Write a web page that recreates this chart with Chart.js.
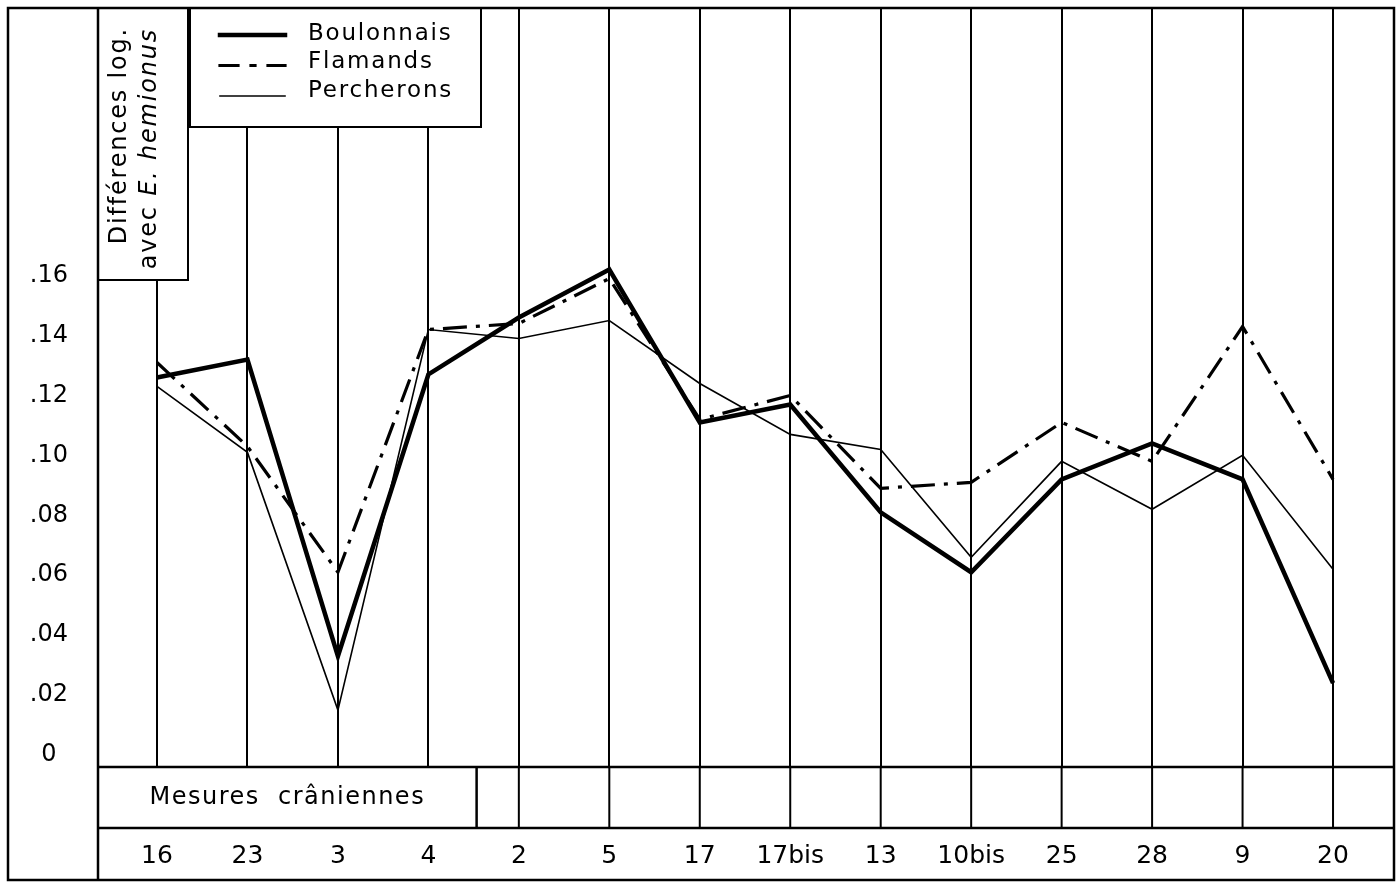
<!DOCTYPE html>
<html>
<head>
<meta charset="utf-8">
<script src="https://cdn.jsdelivr.net/npm/chart.js@4.4.0/dist/chart.umd.min.js"></script>
<style>
html,body{margin:0;padding:0;background:#fff}
</style>
</head>
<body>
<canvas id="graphique" width="1398" height="885"></canvas>
<script>
// mesures crâniennes (ordre du graphique)
const categories=["16","23","3","4","2","5","17","17bis","13","10bis","25","28","9","20"]

// différences log. avec E. hemionus
const boulonnais=[0.126,0.132,0.033,0.127,0.146,0.162,0.111,0.117,0.081,0.061,0.092,0.104,0.092,0.024]
const flamands=[0.131,0.103,0.061,0.142,0.144,0.159,0.112,0.120,0.089,0.091,0.111,0.098,0.143,0.092]
const percherons=[0.123,0.101,0.015,0.142,0.139,0.145,0.124,0.107,0.102,0.066,0.098,0.082,0.100,0.062]

const yTicks=[0,0.02,0.04,0.06,0.08,0.10,0.12,0.14,0.16]
const yLabels=["0",".02",".04",".06",".08",".10",".12",".14",".16"]

const police="'DejaVu Sans', sans-serif"

function points(valeurs){
return valeurs.map((v,i)=>({x:i,y:v}))
}

// pas de marge automatique autour des axes
function sansMarge(s){
s.paddingTop=0
s.paddingBottom=0
s.paddingLeft=0
s.paddingRight=0
}

const cadre={
id:"cadre",

beforeDatasetsDraw(chart){
const ctx=chart.ctx
const a=chart.chartArea
ctx.save()
ctx.fillStyle="#fff"
ctx.strokeStyle="#000"
ctx.lineWidth=2
// case du titre de l'axe
ctx.fillRect(a.left,a.top,90,272)
ctx.strokeRect(a.left,a.top,90,272)
// case de la légende
ctx.fillRect(a.left+92,a.top,291,119)
ctx.strokeRect(a.left+92,a.top,291,119)
ctx.restore()
},

afterDraw(chart){
const ctx=chart.ctx
const a=chart.chartArea
const x=chart.scales.x
const bas=880
const rang=a.bottom+61
ctx.save()
ctx.strokeStyle="#000"
ctx.lineWidth=2.5
ctx.lineCap="square"

ctx.beginPath()
// cadre extérieur
ctx.moveTo(8,a.top); ctx.lineTo(a.right,a.top)
ctx.moveTo(8,a.top); ctx.lineTo(8,bas)
ctx.moveTo(a.right,a.top); ctx.lineTo(a.right,bas)
ctx.moveTo(8,bas); ctx.lineTo(a.right,bas)
ctx.moveTo(a.left,a.top); ctx.lineTo(a.left,bas)
// tableau du bas
ctx.moveTo(a.left,a.bottom); ctx.lineTo(a.right,a.bottom)
ctx.moveTo(a.left,rang); ctx.lineTo(a.right,rang)
const sep=(x.getPixelForValue(3)+x.getPixelForValue(4))/2+3
ctx.moveTo(sep,a.bottom); ctx.lineTo(sep,rang)
ctx.stroke()

ctx.lineWidth=2
ctx.beginPath()
for(let i=4;i<categories.length;i++){
const px=x.getPixelForValue(i)
ctx.moveTo(px,a.bottom); ctx.lineTo(px,rang)
}
ctx.stroke()

ctx.fillStyle="#000"
ctx.font="24px "+police
ctx.letterSpacing="1.5px"
ctx.textAlign="center"
ctx.textBaseline="middle"
ctx.fillText("Mesures  crâniennes",(a.left+sep)/2,(a.bottom+rang)/2)

// titre vertical
ctx.letterSpacing="1.8px"
ctx.save()
ctx.translate(a.left+22,a.top+19)
ctx.rotate(-Math.PI/2)
ctx.textAlign="right"
ctx.font="24px "+police
ctx.fillText("Différences log.",0,0)
ctx.restore()

ctx.save()
ctx.translate(a.left+52,a.top+20)
ctx.rotate(-Math.PI/2)
ctx.textAlign="right"
ctx.font="italic 24px "+police
ctx.fillText("E. hemionus",0,0)
const w=ctx.measureText("E. hemionus").width
ctx.font="24px "+police
ctx.fillText("avec ",-w,0)
ctx.restore()

// légende
const lx=a.left+122
const tx=a.left+210
ctx.letterSpacing="1.8px"
chart.data.datasets.forEach((d,k)=>{
const ly=a.top+26+k*28.5
ctx.save()
ctx.lineWidth=d.borderWidth
ctx.setLineDash(d.borderDash?[18,13,4,13]:[])
ctx.beginPath()
ctx.moveTo(lx,ly+1+k*2)
ctx.lineTo(lx+65,ly+1+k*2)
ctx.stroke()
ctx.restore()
ctx.font="23px "+police
ctx.textAlign="left"
ctx.fillText(d.label,tx,ly)
})

ctx.restore()
}
}

new Chart(document.getElementById("graphique"),{
type:"line",
data:{
datasets:[
{label:"Boulonnais",data:points(boulonnais),borderColor:"#000",borderWidth:4.5},
{label:"Flamands",data:points(flamands),borderColor:"#000",borderWidth:3.2,borderDash:[24,9,4,9]},
{label:"Percherons",data:points(percherons),borderColor:"#000",borderWidth:1.6}
]
},
options:{
responsive:false,
animation:false,
events:[],
layout:{padding:{left:8,top:8,right:4,bottom:0}},
elements:{
line:{tension:0,borderCapStyle:"butt",borderJoinStyle:"miter"},
point:{radius:0}
},
plugins:{
legend:{display:false},
tooltip:{enabled:false}
},
scales:{
x:{
type:"linear",
min:-0.652,
max:13.674,
afterBuildTicks(s){ s.ticks=categories.map((c,i)=>({value:i})) },
afterFit(s){ s.height=118; sansMarge(s) },
grid:{color:"#000",lineWidth:2,drawTicks:false},
border:{display:false},
ticks:{
autoSkip:false,
maxRotation:0,
padding:74,
color:"#000",
font:{family:police,size:25},
callback:(v)=>categories[v]
}
},
y:{
min:-0.004,
max:0.2493,
afterBuildTicks(s){ s.ticks=yTicks.map(v=>({value:v})) },
afterFit(s){ s.width=90; sansMarge(s) },
grid:{display:false,drawTicks:false},
border:{display:false},
ticks:{
crossAlign:"center",
padding:30,
color:"#000",
font:{family:police,size:24},
callback:(v)=>yLabels[yTicks.indexOf(v)]
}
}
}
},
plugins:[cadre]
})
</script>
</body>
</html>
